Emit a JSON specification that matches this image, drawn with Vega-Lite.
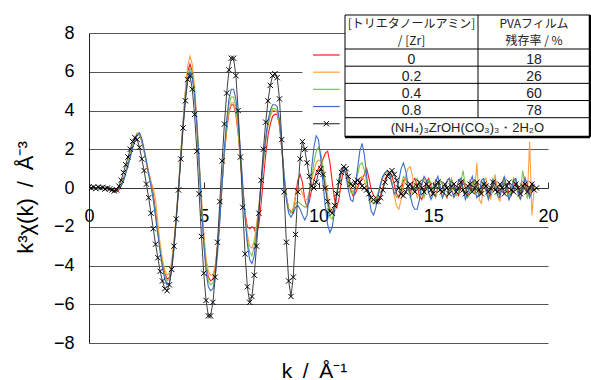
{
"$schema":"https://vega.github.io/schema/vega-lite/v6.json",
"width":459,"height":310,
"autosize":{"type":"none"},
"padding":{"left":89,"top":33,"right":43,"bottom":37},
"background":"white",
"config":{"view":{"stroke":null},"font":"Liberation Sans"},
"datasets":{
"spectra":[
{"k":0,"r0":0,"r02":0,"r04":0,"r08":0,"ref":0.05},
{"k":0.1,"r0":0,"r02":0,"r04":0,"r08":0,"ref":0},
{"k":0.2,"r0":0.02,"r02":0,"r04":0,"r08":0.02,"ref":0.05},
{"k":0.3,"r0":0,"r02":0,"r04":0.02,"r08":0,"ref":-0.03},
{"k":0.4,"r0":0,"r02":0.02,"r04":0,"r08":0,"ref":0.05},
{"k":0.5,"r0":-0.02,"r02":0,"r04":0,"r08":0,"ref":0},
{"k":0.6,"r0":0,"r02":0,"r04":0,"r08":-0.02,"ref":0.03},
{"k":0.7,"r0":-0.02,"r02":-0.02,"r04":0,"r08":0,"ref":-0.05},
{"k":0.8,"r0":-0.05,"r02":-0.03,"r04":-0.03,"r08":-0.03,"ref":0},
{"k":0.9,"r0":-0.08,"r02":-0.05,"r04":-0.05,"r08":-0.05,"ref":-0.05},
{"k":1.0,"r0":-0.12,"r02":-0.08,"r04":-0.08,"r08":-0.08,"ref":-0.1},
{"k":1.1,"r0":-0.18,"r02":-0.12,"r04":-0.12,"r08":-0.12,"ref":-0.15},
{"k":1.2,"r0":-0.2,"r02":-0.12,"r04":-0.12,"r08":-0.12,"ref":-0.1},
{"k":1.3,"r0":-0.1,"r02":0,"r04":0,"r08":0,"ref":0.1},
{"k":1.4,"r0":0.1,"r02":0.2,"r04":0.15,"r08":0.1,"ref":0.4},
{"k":1.5,"r0":0.4,"r02":0.5,"r04":0.45,"r08":0.35,"ref":0.8},
{"k":1.6,"r0":0.8,"r02":0.9,"r04":0.85,"r08":0.75,"ref":1.2},
{"k":1.7,"r0":1.2,"r02":1.3,"r04":1.25,"r08":1.15,"ref":1.6},
{"k":1.8,"r0":1.7,"r02":1.8,"r04":1.75,"r08":1.6,"ref":2.0},
{"k":1.9,"r0":2.1,"r02":2.2,"r04":2.15,"r08":2.05,"ref":2.4},
{"k":2.0,"r0":2.5,"r02":2.6,"r04":2.55,"r08":2.45,"ref":2.6},
{"k":2.1,"r0":2.75,"r02":2.85,"r04":2.8,"r08":2.75,"ref":2.5},
{"k":2.2,"r0":2.75,"r02":2.8,"r04":2.8,"r08":2.85,"ref":2.1},
{"k":2.3,"r0":2.4,"r02":2.5,"r04":2.45,"r08":2.55,"ref":1.5},
{"k":2.4,"r0":1.9,"r02":2.0,"r04":1.9,"r08":2.0,"ref":0.9},
{"k":2.5,"r0":1.3,"r02":1.4,"r04":1.3,"r08":1.4,"ref":0.2},
{"k":2.6,"r0":0.8,"r02":0.8,"r04":0.7,"r08":0.7,"ref":-0.5},
{"k":2.7,"r0":0.3,"r02":0.3,"r04":0.2,"r08":0.1,"ref":-1.3},
{"k":2.8,"r0":-0.3,"r02":0.0,"r04":-0.5,"r08":-0.6,"ref":-2.1},
{"k":2.9,"r0":-1.2,"r02":-0.6,"r04":-1.4,"r08":-1.5,"ref":-2.9},
{"k":3.0,"r0":-2.2,"r02":-1.8,"r04":-2.3,"r08":-2.4,"ref":-3.6},
{"k":3.1,"r0":-3.1,"r02":-2.9,"r04":-3.2,"r08":-3.3,"ref":-4.3},
{"k":3.2,"r0":-3.9,"r02":-3.7,"r04":-4.0,"r08":-4.1,"ref":-4.8},
{"k":3.3,"r0":-4.4,"r02":-4.2,"r04":-4.5,"r08":-4.7,"ref":-5.2},
{"k":3.4,"r0":-4.7,"r02":-4.5,"r04":-4.8,"r08":-5.0,"ref":-5.3},
{"k":3.5,"r0":-4.6,"r02":-4.4,"r04":-4.7,"r08":-4.9,"ref":-5.0},
{"k":3.6,"r0":-4.0,"r02":-3.8,"r04":-4.1,"r08":-4.3,"ref":-4.2},
{"k":3.7,"r0":-2.9,"r02":-2.8,"r04":-3.0,"r08":-3.2,"ref":-3.0},
{"k":3.8,"r0":-1.5,"r02":-1.4,"r04":-1.6,"r08":-1.7,"ref":-1.6},
{"k":3.9,"r0":0.0,"r02":0.1,"r04":0.0,"r08":-0.1,"ref":-0.1},
{"k":4.0,"r0":1.7,"r02":1.8,"r04":1.7,"r08":1.6,"ref":1.5},
{"k":4.1,"r0":3.4,"r02":3.5,"r04":3.3,"r08":3.2,"ref":3.1},
{"k":4.2,"r0":4.9,"r02":5.1,"r04":4.8,"r08":4.6,"ref":4.5},
{"k":4.3,"r0":6.0,"r02":6.3,"r04":5.8,"r08":5.6,"ref":5.6},
{"k":4.4,"r0":6.4,"r02":6.8,"r04":6.2,"r08":6.0,"ref":5.8},
{"k":4.5,"r0":6.0,"r02":6.4,"r04":5.9,"r08":5.7,"ref":5.1},
{"k":4.6,"r0":4.9,"r02":5.2,"r04":4.9,"r08":4.8,"ref":3.8},
{"k":4.7,"r0":3.2,"r02":3.5,"r04":3.3,"r08":3.3,"ref":1.9},
{"k":4.8,"r0":1.2,"r02":1.5,"r04":1.3,"r08":1.3,"ref":-0.3},
{"k":4.9,"r0":-0.8,"r02":-0.5,"r04":-0.8,"r08":-0.9,"ref":-2.5},
{"k":5.0,"r0":-2.6,"r02":-2.3,"r04":-2.7,"r08":-2.9,"ref":-4.4},
{"k":5.1,"r0":-3.9,"r02":-3.6,"r04":-4.0,"r08":-4.3,"ref":-5.8},
{"k":5.2,"r0":-4.6,"r02":-4.3,"r04":-4.8,"r08":-5.1,"ref":-6.6},
{"k":5.3,"r0":-4.8,"r02":-4.5,"r04":-5.0,"r08":-5.3,"ref":-6.6},
{"k":5.4,"r0":-4.7,"r02":-4.5,"r04":-4.9,"r08":-5.2,"ref":-5.9},
{"k":5.5,"r0":-4.1,"r02":-4.0,"r04":-4.3,"r08":-4.6,"ref":-4.6},
{"k":5.6,"r0":-3.0,"r02":-3.0,"r04":-3.2,"r08":-3.4,"ref":-2.8},
{"k":5.7,"r0":-1.4,"r02":-1.5,"r04":-1.6,"r08":-1.7,"ref":-0.7},
{"k":5.8,"r0":0.3,"r02":0.2,"r04":0.2,"r08":0.2,"ref":1.4},
{"k":5.9,"r0":1.8,"r02":1.8,"r04":1.9,"r08":2.0,"ref":3.3},
{"k":6.0,"r0":3.0,"r02":3.1,"r04":3.3,"r08":3.5,"ref":4.9},
{"k":6.1,"r0":3.9,"r02":4.0,"r04":4.3,"r08":4.6,"ref":6.1},
{"k":6.2,"r0":4.3,"r02":4.4,"r04":4.7,"r08":5.1,"ref":6.7},
{"k":6.3,"r0":4.3,"r02":4.4,"r04":4.7,"r08":5.1,"ref":6.7},
{"k":6.4,"r0":3.8,"r02":3.9,"r04":4.2,"r08":4.6,"ref":5.8},
{"k":6.5,"r0":2.8,"r02":2.9,"r04":3.1,"r08":3.5,"ref":4.0},
{"k":6.6,"r0":1.4,"r02":1.5,"r04":1.6,"r08":1.9,"ref":1.6},
{"k":6.7,"r0":-0.1,"r02":0.0,"r04":0.0,"r08":0.2,"ref":-1.0},
{"k":6.8,"r0":-1.3,"r02":-1.4,"r04":-1.5,"r08":-1.5,"ref":-3.4},
{"k":6.9,"r0":-2.0,"r02":-2.4,"r04":-2.7,"r08":-2.9,"ref":-5.1},
{"k":7.0,"r0":-2.1,"r02":-3.0,"r04":-3.3,"r08":-3.7,"ref":-5.9},
{"k":7.1,"r0":-2.0,"r02":-3.1,"r04":-3.5,"r08":-3.9,"ref":-5.6},
{"k":7.2,"r0":-2.1,"r02":-2.7,"r04":-3.0,"r08":-3.5,"ref":-4.5},
{"k":7.3,"r0":-2.4,"r02":-1.9,"r04":-2.1,"r08":-2.5,"ref":-3.0},
{"k":7.4,"r0":-1.9,"r02":-0.9,"r04":-1.0,"r08":-1.2,"ref":-1.3},
{"k":7.5,"r0":-0.8,"r02":0.3,"r04":0.2,"r08":0.2,"ref":0.4},
{"k":7.6,"r0":0.5,"r02":1.4,"r04":1.4,"r08":1.5,"ref":2.0},
{"k":7.7,"r0":1.7,"r02":2.4,"r04":2.5,"r08":2.6,"ref":3.4},
{"k":7.8,"r0":2.7,"r02":3.2,"r04":3.3,"r08":3.5,"ref":4.5},
{"k":7.9,"r0":3.3,"r02":3.7,"r04":3.8,"r08":4.0,"ref":5.3},
{"k":8.0,"r0":3.7,"r02":4.0,"r04":4.1,"r08":4.3,"ref":5.8},
{"k":8.1,"r0":3.8,"r02":4.0,"r04":4.1,"r08":4.3,"ref":5.9},
{"k":8.2,"r0":3.8,"r02":3.9,"r04":4.0,"r08":4.2,"ref":5.7},
{"k":8.3,"r0":3.2,"r02":3.3,"r04":3.4,"r08":3.5,"ref":4.6},
{"k":8.4,"r0":2.0,"r02":2.1,"r04":2.2,"r08":2.2,"ref":2.5},
{"k":8.5,"r0":0.6,"r02":0.7,"r04":0.7,"r08":0.6,"ref":-0.2},
{"k":8.6,"r0":-0.5,"r02":-0.4,"r04":-0.4,"r08":-0.6,"ref":-2.8},
{"k":8.7,"r0":-1.1,"r02":-1.1,"r04":-1.1,"r08":-1.3,"ref":-4.8},
{"k":8.8,"r0":-1.2,"r02":-1.3,"r04":-1.3,"r08":-1.5,"ref":-5.6},
{"k":8.9,"r0":-1.3,"r02":-1.0,"r04":-1.1,"r08":-1.3,"ref":-4.6},
{"k":9.0,"r0":-0.4,"r02":-0.4,"r04":-0.8,"r08":-1.0,"ref":-2.4},
{"k":9.1,"r0":0.4,"r02":0.0,"r04":-0.7,"r08":-0.9,"ref":-0.2},
{"k":9.2,"r0":0.7,"r02":0.0,"r04":-0.8,"r08":-1.1,"ref":1.5},
{"k":9.3,"r0":0.3,"r02":-0.3,"r04":-0.9,"r08":-1.4,"ref":2.4},
{"k":9.4,"r0":-0.6,"r02":-0.6,"r04":-1.0,"r08":-1.65,"ref":2.0},
{"k":9.5,"r0":-1.0,"r02":-0.6,"r04":-0.9,"r08":-1.4,"ref":1.3},
{"k":9.6,"r0":-0.7,"r02":-0.2,"r04":-0.3,"r08":-0.3,"ref":0.6},
{"k":9.7,"r0":-0.1,"r02":0.4,"r04":0.5,"r08":1.0,"ref":0.1},
{"k":9.8,"r0":0.4,"r02":0.9,"r04":1.3,"r08":2.1,"ref":0.0},
{"k":9.9,"r0":0.8,"r02":1.3,"r04":1.9,"r08":2.7,"ref":0.3},
{"k":10.0,"r0":1.0,"r02":1.45,"r04":2.1,"r08":2.5,"ref":0.8},
{"k":10.1,"r0":1.2,"r02":1.4,"r04":1.8,"r08":1.5,"ref":1.0},
{"k":10.2,"r0":1.5,"r02":1.1,"r04":1.0,"r08":0.2,"ref":0.7},
{"k":10.3,"r0":1.8,"r02":0.4,"r04":0.0,"r08":-1.0,"ref":0.0},
{"k":10.4,"r0":1.9,"r02":-0.4,"r04":-0.9,"r08":-1.9,"ref":-0.7},
{"k":10.5,"r0":1.3,"r02":-1.0,"r04":-1.5,"r08":-2.3,"ref":-1.2},
{"k":10.6,"r0":0.3,"r02":-1.3,"r04":-1.6,"r08":-2.0,"ref":-1.3},
{"k":10.7,"r0":-0.6,"r02":-1.0,"r04":-1.1,"r08":-1.2,"ref":-0.9},
{"k":10.8,"r0":-1.0,"r02":-0.3,"r04":-0.3,"r08":-0.3,"ref":-0.3},
{"k":10.9,"r0":-0.5,"r02":0.4,"r04":0.5,"r08":0.5,"ref":0.3},
{"k":11.0,"r0":0.4,"r02":0.9,"r04":1.0,"r08":1.0,"ref":0.8},
{"k":11.1,"r0":0.9,"r02":1.1,"r04":1.1,"r08":1.1,"ref":1.1},
{"k":11.2,"r0":0.8,"r02":0.9,"r04":0.7,"r08":0.6,"ref":1.0},
{"k":11.3,"r0":0.3,"r02":0.4,"r04":0.2,"r08":-0.1,"ref":0.6},
{"k":11.4,"r0":-0.1,"r02":0.0,"r04":-0.2,"r08":-0.6,"ref":0.2},
{"k":11.5,"r0":-0.4,"r02":-0.2,"r04":-0.3,"r08":-0.7,"ref":0.1},
{"k":11.6,"r0":-0.3,"r02":-0.1,"r04":0.1,"r08":0.0,"ref":0.3},
{"k":11.7,"r0":0.0,"r02":0.2,"r04":0.7,"r08":1.0,"ref":0.4},
{"k":11.8,"r0":0.3,"r02":0.5,"r04":1.2,"r08":1.9,"ref":0.3},
{"k":11.9,"r0":0.5,"r02":0.6,"r04":1.3,"r08":2.3,"ref":0.1},
{"k":12.0,"r0":0.7,"r02":0.4,"r04":0.9,"r08":1.7,"ref":0.0},
{"k":12.1,"r0":1.0,"r02":0.0,"r04":0.3,"r08":0.6,"ref":-0.1},
{"k":12.2,"r0":0.5,"r02":-0.4,"r04":-0.3,"r08":-0.5,"ref":-0.3},
{"k":12.3,"r0":-0.1,"r02":-0.7,"r04":-0.7,"r08":-1.2,"ref":-0.5},
{"k":12.4,"r0":-0.4,"r02":-0.8,"r04":-0.8,"r08":-1.4,"ref":-0.6},
{"k":12.5,"r0":-0.5,"r02":-0.6,"r04":-0.6,"r08":-1.0,"ref":-0.7},
{"k":12.6,"r0":-0.6,"r02":-0.3,"r04":-0.2,"r08":-0.4,"ref":-0.7},
{"k":12.7,"r0":-0.4,"r02":0.1,"r04":0.2,"r08":0.2,"ref":-0.5},
{"k":12.8,"r0":0.0,"r02":0.5,"r04":0.6,"r08":0.6,"ref":-0.1},
{"k":12.9,"r0":0.4,"r02":0.7,"r04":0.8,"r08":0.8,"ref":0.3},
{"k":13.0,"r0":0.7,"r02":0.8,"r04":0.9,"r08":0.9,"ref":0.6},
{"k":13.1,"r0":0.8,"r02":0.6,"r04":0.7,"r08":0.7,"ref":0.8},
{"k":13.2,"r0":0.6,"r02":0.2,"r04":0.3,"r08":0.2,"ref":0.9},
{"k":13.3,"r0":0.2,"r02":-0.4,"r04":-0.2,"r08":-0.3,"ref":0.7},
{"k":13.4,"r0":-0.3,"r02":-0.9,"r04":-0.5,"r08":-0.2,"ref":0.4},
{"k":13.5,"r0":-0.5,"r02":-1.1,"r04":-0.4,"r08":0.4,"ref":0.0},
{"k":13.6,"r0":-0.2,"r02":-0.6,"r04":0.1,"r08":1.0,"ref":-0.3},
{"k":13.7,"r0":0.4,"r02":0.1,"r04":0.6,"r08":1.3,"ref":-0.4},
{"k":13.8,"r0":0.5,"r02":0.6,"r04":0.5,"r08":0.9,"ref":-0.2},
{"k":13.9,"r0":0.1,"r02":1.0,"r04":0.0,"r08":0.2,"ref":0.1},
{"k":14.0,"r0":-0.4,"r02":1.1,"r04":-0.5,"r08":-0.4,"ref":0.2},
{"k":14.1,"r0":0.3,"r02":0.6,"r04":-0.3,"r08":-0.9,"ref":0.0},
{"k":14.2,"r0":0.5,"r02":0.0,"r04":0.2,"r08":-1.1,"ref":-0.2},
{"k":14.3,"r0":0.1,"r02":-0.5,"r04":0.5,"r08":-1.1,"ref":0.1},
{"k":14.4,"r0":-0.4,"r02":-0.3,"r04":0.1,"r08":-0.6,"ref":0.3},
{"k":14.5,"r0":-0.6,"r02":0.2,"r04":-0.4,"r08":0.2,"ref":0.0},
{"k":14.6,"r0":-0.2,"r02":0.5,"r04":-0.5,"r08":0.6,"ref":-0.2},
{"k":14.7,"r0":0.3,"r02":0.2,"r04":0.0,"r08":0.4,"ref":0.2},
{"k":14.8,"r0":0.5,"r02":-0.3,"r04":0.4,"r08":-0.2,"ref":0.1},
{"k":14.9,"r0":0.1,"r02":-0.4,"r04":0.3,"r08":-0.6,"ref":-0.1},
{"k":15.0,"r0":-0.3,"r02":0.0,"r04":-0.2,"r08":-0.3,"ref":-0.3},
{"k":15.1,"r0":-0.4,"r02":0.4,"r04":-0.5,"r08":0.3,"ref":0.1},
{"k":15.2,"r0":0.0,"r02":0.3,"r04":-0.1,"r08":0.6,"ref":0.3},
{"k":15.3,"r0":0.4,"r02":-0.2,"r04":0.4,"r08":0.1,"ref":-0.1},
{"k":15.4,"r0":0.2,"r02":-0.5,"r04":0.2,"r08":-0.5,"ref":-0.2},
{"k":15.5,"r0":-0.3,"r02":-0.1,"r04":-0.3,"r08":-0.2,"ref":0.2},
{"k":15.6,"r0":-0.5,"r02":0.3,"r04":-0.4,"r08":0.4,"ref":0.0},
{"k":15.7,"r0":0.0,"r02":0.5,"r04":0.1,"r08":0.5,"ref":-0.3},
{"k":15.8,"r0":0.4,"r02":0.0,"r04":0.5,"r08":-0.1,"ref":0.1},
{"k":15.9,"r0":0.2,"r02":-0.4,"r04":0.0,"r08":-0.5,"ref":0.2},
{"k":16.0,"r0":-0.2,"r02":-0.2,"r04":-0.4,"r08":-0.2,"ref":-0.2},
{"k":16.1,"r0":-0.4,"r02":0.3,"r04":-0.2,"r08":0.4,"ref":0.0},
{"k":16.2,"r0":0.1,"r02":0.4,"r04":0.3,"r08":0.5,"ref":0.3},
{"k":16.3,"r0":0.4,"r02":-0.1,"r04":0.9,"r08":0.0,"ref":-0.1},
{"k":16.4,"r0":0.0,"r02":-0.5,"r04":0.1,"r08":-0.6,"ref":-0.3},
{"k":16.5,"r0":-0.4,"r02":-0.2,"r04":-0.5,"r08":-0.3,"ref":0.1},
{"k":16.6,"r0":-0.2,"r02":0.4,"r04":-0.3,"r08":0.3,"ref":0.2},
{"k":16.7,"r0":0.3,"r02":0.2,"r04":0.2,"r08":0.6,"ref":-0.2},
{"k":16.8,"r0":0.4,"r02":-0.3,"r04":0.4,"r08":0.0,"ref":0.0},
{"k":16.9,"r0":0.0,"r02":1.3,"r04":-0.1,"r08":-0.5,"ref":0.3},
{"k":17.0,"r0":-0.4,"r02":-0.6,"r04":-0.4,"r08":-0.3,"ref":-0.1},
{"k":17.1,"r0":-0.2,"r02":-0.8,"r04":0.1,"r08":0.4,"ref":-0.3},
{"k":17.2,"r0":0.3,"r02":0.3,"r04":0.4,"r08":0.5,"ref":0.2},
{"k":17.3,"r0":0.2,"r02":0.5,"r04":-0.2,"r08":-0.1,"ref":0.1},
{"k":17.4,"r0":-0.3,"r02":-0.2,"r04":-0.5,"r08":-0.6,"ref":-0.2},
{"k":17.5,"r0":-0.4,"r02":-0.6,"r04":0.0,"r08":-0.2,"ref":0.0},
{"k":17.6,"r0":0.1,"r02":0.2,"r04":0.5,"r08":0.4,"ref":0.3},
{"k":17.7,"r0":0.4,"r02":0.7,"r04":0.2,"r08":0.3,"ref":-0.1},
{"k":17.8,"r0":0.0,"r02":-0.4,"r04":-0.3,"r08":-0.4,"ref":-0.2},
{"k":17.9,"r0":-0.3,"r02":-0.7,"r04":-0.4,"r08":-0.5,"ref":0.2},
{"k":18.0,"r0":-0.1,"r02":0.3,"r04":0.2,"r08":0.2,"ref":0.0},
{"k":18.1,"r0":0.3,"r02":0.6,"r04":0.4,"r08":0.6,"ref":-0.3},
{"k":18.2,"r0":0.2,"r02":-0.2,"r04":-0.1,"r08":0.0,"ref":0.1},
{"k":18.3,"r0":-0.3,"r02":-0.6,"r04":-0.6,"r08":-0.6,"ref":0.3},
{"k":18.4,"r0":-0.4,"r02":-0.1,"r04":0.0,"r08":-0.3,"ref":-0.1},
{"k":18.5,"r0":0.1,"r02":0.5,"r04":0.5,"r08":0.4,"ref":-0.2},
{"k":18.6,"r0":0.4,"r02":0.3,"r04":0.2,"r08":0.5,"ref":0.2},
{"k":18.7,"r0":0.1,"r02":-0.4,"r04":-0.4,"r08":-0.2,"ref":0.0},
{"k":18.8,"r0":-0.3,"r02":-0.6,"r04":-0.2,"r08":-0.6,"ref":-0.3},
{"k":18.9,"r0":-0.2,"r02":0.2,"r04":0.9,"r08":0.0,"ref":0.1},
{"k":19.0,"r0":0.3,"r02":0.6,"r04":0.1,"r08":0.5,"ref":0.2},
{"k":19.1,"r0":0.1,"r02":-0.5,"r04":-0.5,"r08":0.2,"ref":-0.2},
{"k":19.2,"r0":-0.3,"r02":2.4,"r04":-0.2,"r08":-0.5,"ref":0.0},
{"k":19.3,"r0":0.0,"r02":-1.4,"r04":0.3,"r08":-0.2,"ref":0.2},
{"k":19.4,"r0":0.2,"r02":0.0,"r04":0.0,"r08":0.2,"ref":-0.1},
{"k":19.5,"ref":0.0}
],
"legend":[
{"series":"r0","ratio":"0","pva":"18","name":"","row":2},
{"series":"r02","ratio":"0.2","pva":"26","name":"","row":3},
{"series":"r04","ratio":"0.4","pva":"60","name":"","row":4},
{"series":"r08","ratio":"0.8","pva":"78","name":"","row":5},
{"series":"ref","ratio":"","pva":"","name":"(NH₄)₃ZrOH(CO₃)₃・2H₂O","row":6}
],
"header":[
{"line":0,"left":"[トリエタノールアミン]","right":"PVAフィルム"},
{"line":1,"left":"/ [Zr]","right":"残存率 / %"}
]
},
"layer":[
{"data":{"name":"spectra"},
 "layer":[
  {"transform":[{"fold":["r0","r02","r04","r08"],"as":["series","value"]}],
   "mark":{"type":"line","strokeWidth":1.1,"clip":true},
   "encoding":{
    "x":{"field":"k","type":"quantitative","scale":{"domain":[0,20],"nice":false,"zero":false},
     "axis":{"values":[0,5,10,15,20],"tickCount":20,"offset":-155,"grid":false,"domainColor":"#333","tickColor":"#333","tickSize":-6,"labelFontSize":18,"labelColor":"#000","labelPadding":25,"labelFlush":false,"labelOverlap":false,"labelFont":"Liberation Sans","title":"k\u2002/\u2002Å⁻¹","titleFontSize":21,"titleFontWeight":"normal","titleFont":"Liberation Sans","titleColor":"#000","titleX":225,"titleY":189,"titleBaseline":"alphabetic"}},
    "y":{"field":"value","type":"quantitative","scale":{"domain":[-8,8],"nice":false,"zero":false},
     "axis":{"values":[-8,-6,-4,-2,0,2,4,6,8],"tickCount":20,"labelOverlap":false,"grid":true,"gridColor":"#555","gridWidth":1,"domainColor":"#222","ticks":false,"labelFontSize":18,"labelPadding":15,"labelColor":"#000","labelFont":"Liberation Sans","title":"k³χ(k)\u2002/\u2002Å⁻³","titleFontSize":22,"titleFontWeight":"normal","titleFont":"Liberation Sans","titleColor":"#000","titleX":-64,"titleY":164,"titleAlign":"center","titleBaseline":"middle"}},
    "color":{"field":"series","type":"nominal","scale":{"domain":["r0","r02","r04","r08","ref"],"range":["#ff1a1a","#ffa040","#7cc24e","#3a6cc6","#404040"]},"legend":null}
   }},
  {"mark":{"type":"line","color":"#404040","strokeWidth":1,"clip":true},
   "encoding":{"x":{"field":"k","type":"quantitative"},"y":{"field":"ref","type":"quantitative"}}},
  {"mark":{"type":"point","shape":"M-1,-1L1,1M-1,1L1,-1","size":28,"filled":false,"stroke":"#000","strokeWidth":1,"opacity":1,"clip":true},
   "encoding":{"x":{"field":"k","type":"quantitative"},"y":{"field":"ref","type":"quantitative"}}}
 ]},
{"layer":[
  {"data":{"values":[{}]},"mark":{"type":"rect","fill":"white"},
   "encoding":{"x":{"datum":-0.32,"type":"quantitative","scale":{"domain":[0,1,2],"range":[256,389,501],"nice":false,"zero":false},"axis":null},"x2":{"datum":0},
    "y":{"datum":1.2,"type":"quantitative","scale":{"domain":[0,2,6,7],"range":[-18,16,84.7,104],"nice":false,"zero":false},"axis":null},"y2":{"datum":6.8}}},
  {"data":{"values":[{}]},"mark":{"type":"rect","fill":"white","stroke":"#000","strokeWidth":1},
   "encoding":{"x":{"datum":0,"type":"quantitative"},"x2":{"datum":2},"y":{"datum":0,"type":"quantitative"},"y2":{"datum":7}}},
  {"data":{"name":"legend"},"mark":{"type":"rule","color":"#000","strokeWidth":1},
   "encoding":{"x":{"datum":0,"type":"quantitative"},"x2":{"datum":2},"y":{"field":"row","type":"quantitative"}}},
  {"data":{"values":[{}]},"mark":{"type":"rule","color":"#000","strokeWidth":1},
   "encoding":{"x":{"datum":1,"type":"quantitative"},"y":{"datum":0,"type":"quantitative"},"y2":{"datum":6}}},
  {"data":{"values":[{}]},"mark":{"type":"rule","color":"#000","strokeWidth":2.5},
   "encoding":{"x":{"datum":2,"type":"quantitative"},"y":{"datum":0,"type":"quantitative"},"y2":{"datum":7}}},
  {"data":{"values":[{}]},"mark":{"type":"rule","color":"#000","strokeWidth":2.5},
   "encoding":{"x":{"datum":0,"type":"quantitative"},"x2":{"datum":2},"y":{"datum":7,"type":"quantitative"}}},
  {"data":{"name":"legend"},"mark":{"type":"rule","strokeWidth":1.2,"yOffset":6},
   "encoding":{"x":{"datum":-0.24,"type":"quantitative"},"x2":{"datum":-0.04},"y":{"field":"row","type":"quantitative"},"color":{"field":"series","type":"nominal","legend":null}}},
  {"data":{"name":"legend"},"transform":[{"filter":"datum.series === 'ref'"}],
   "mark":{"type":"point","shape":"M-1,-1L1,1M-1,1L1,-1","size":28,"filled":false,"stroke":"#000","strokeWidth":1,"opacity":1,"yOffset":6},
   "encoding":{"x":{"datum":-0.14,"type":"quantitative"},"y":{"field":"row","type":"quantitative"}}},
  {"data":{"name":"legend"},"mark":{"type":"text","fontSize":14,"dy":10.5,"baseline":"middle","align":"center","color":"#222","font":"Liberation Sans"},
   "encoding":{"x":{"datum":0.5,"type":"quantitative"},"y":{"field":"row","type":"quantitative"},"text":{"field":"ratio"}}},
  {"data":{"name":"legend"},"mark":{"type":"text","fontSize":14,"dy":10.5,"baseline":"middle","align":"center","color":"#222","font":"Liberation Sans"},
   "encoding":{"x":{"datum":1.5,"type":"quantitative"},"y":{"field":"row","type":"quantitative"},"text":{"field":"pva"}}},
  {"data":{"name":"legend"},"mark":{"type":"text","fontSize":13,"dy":10.5,"baseline":"middle","align":"center","color":"#222","font":"Liberation Sans"},
   "encoding":{"x":{"datum":0.92,"type":"quantitative"},"y":{"field":"row","type":"quantitative"},"text":{"field":"name"}}},
  {"data":{"name":"header"},"mark":{"type":"text","fontSize":12,"dy":9,"baseline":"middle","align":"center","color":"#222","font":"Noto Sans CJK JP"},
   "encoding":{"x":{"datum":0.5,"type":"quantitative"},"y":{"field":"line","type":"quantitative"},"text":{"field":"left"}}},
  {"data":{"name":"header"},"mark":{"type":"text","fontSize":12,"dy":9,"baseline":"middle","align":"center","color":"#222","font":"Noto Sans CJK JP"},
   "encoding":{"x":{"datum":1.5,"type":"quantitative"},"y":{"field":"line","type":"quantitative"},"text":{"field":"right"}}}
 ]}
],
"resolve":{"scale":{"x":"independent","y":"independent"}}
}
